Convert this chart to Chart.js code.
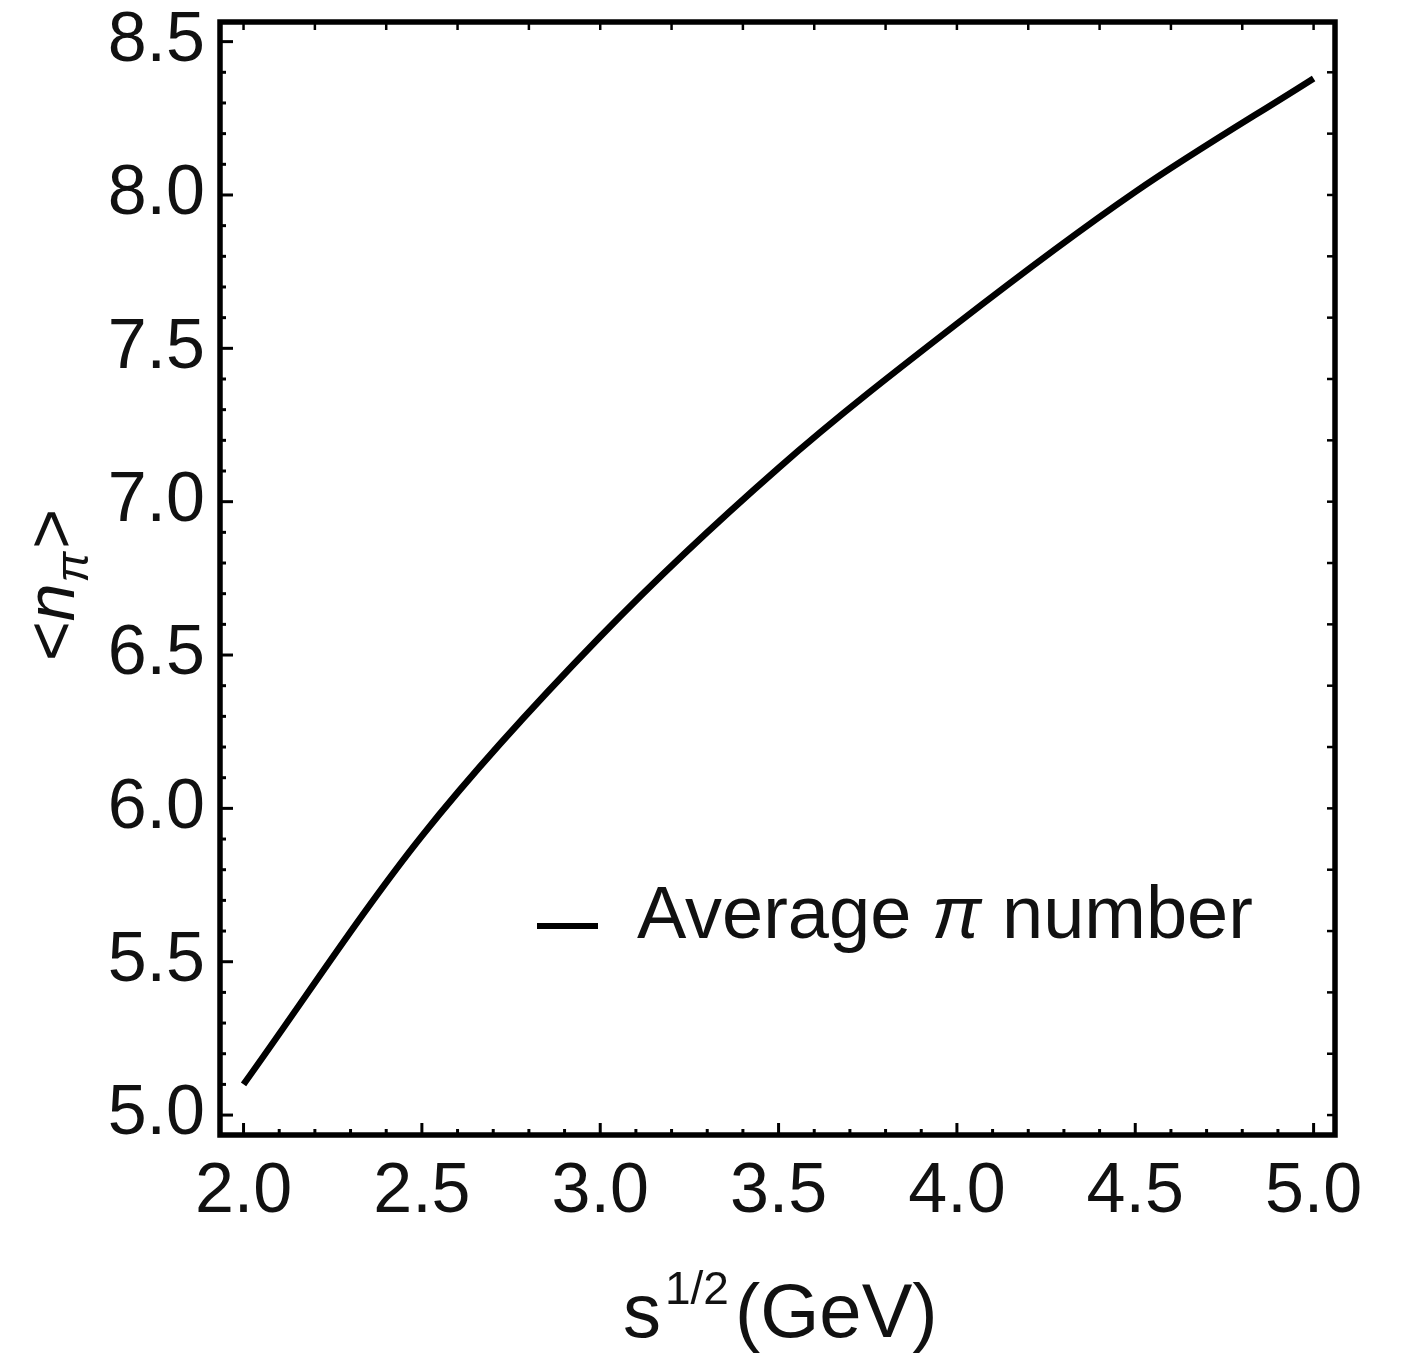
<!DOCTYPE html>
<html>
<head>
<meta charset="utf-8">
<script src="https://cdn.jsdelivr.net/npm/chart.js@4.4.0/dist/chart.umd.min.js"></script>
<style>
  body { margin: 0; background: #fff; }
  #wrap { position: relative; width: 1410px; height: 1369px; }
</style>
</head>
<body>
<div id="wrap"><canvas id="pionChart" width="1410" height="1369"></canvas></div>
<script>
// sqrt(s) in GeV
const energies = [2.0, 2.5, 3.0, 3.5, 4.0, 4.5, 5.0];
// average pion number
const avgPion = [5.10, 5.91, 6.56, 7.11, 7.58, 8.01, 8.38];
const seriesLabel = "Average π number";

const FONT = "'Liberation Sans', Arial, Helvetica, sans-serif";
const isMajor = v => Math.abs(v * 2 - Math.round(v * 2)) < 1e-6;

// draw a list of text runs [text, size, italic, dy, gapAfter]
function drawRuns(ctx, runs, x, y) {
    runs.forEach(r => {
        ctx.font = (r[2] ? "italic " : "") + r[1] + "px " + FONT;
        ctx.fillText(r[0], x, y + (r[3] || 0));
        x += ctx.measureText(r[0]).width + (r[4] || 0);
    });
}
function runsWidth(ctx, runs) {
    let w = 0;
    runs.forEach(r => {
        ctx.font = (r[2] ? "italic " : "") + r[1] + "px " + FONT;
        w += ctx.measureText(r[0]).width + (r[4] || 0);
    });
    return w;
}

const frame = {
    id: "frame",
    afterDraw(chart) {
        const { ctx, chartArea: a, scales } = chart;
        ctx.save();
        ctx.strokeStyle = "#000";
        ctx.lineCap = "butt";
        const seg = (x1, y1, x2, y2) => {
            ctx.beginPath(); ctx.moveTo(x1, y1); ctx.lineTo(x2, y2); ctx.stroke();
        };
        ctx.lineWidth = 3;
        scales.x.ticks.forEach(t => {
            const px = scales.x.getPixelForValue(t.value);
            seg(px, a.bottom, px, a.bottom - (isMajor(t.value) ? 12 : 6));
        });
        scales.y.ticks.forEach(t => {
            const py = scales.y.getPixelForValue(t.value);
            seg(a.left, py, a.left + (isMajor(t.value) ? 13 : 6), py);
        });
        ctx.lineWidth = 2.5;
        scales.x2.ticks.forEach(t => {
            const px = scales.x2.getPixelForValue(t.value);
            seg(px, a.top, px, a.top + 8);
        });
        scales.y2.ticks.forEach(t => {
            const py = scales.y2.getPixelForValue(t.value);
            seg(a.right, py, a.right - 8, py);
        });
        ctx.lineWidth = 5.5;
        ctx.strokeRect(a.left, a.top, a.width, a.height);

        // legend
        ctx.fillStyle = "#111";
        ctx.lineWidth = 6;
        seg(537, 926, 598, 926);
        ctx.textBaseline = "alphabetic";
        const parts = seriesLabel.split("π");
        drawRuns(ctx, [[parts[0], 74, false], ["π", 74, true], [parts[1], 74, false]], 637, 938);

        // x title
        drawRuns(ctx, [["s", 76, false, 0, 4], ["1/2", 46, false, -33, 6], ["(GeV)", 76, false]], 623, 1337);

        // y title
        const yRuns = [["<", 68, false], ["n", 68, true, 0, 1], ["π", 46, true, 14, 3], [">", 68, false]];
        ctx.translate(74, 585);
        ctx.rotate(-Math.PI / 2);
        drawRuns(ctx, yRuns, -runsWidth(ctx, yRuns) / 2, 0);
        ctx.restore();
    }
};

const ctx = document.getElementById("pionChart").getContext("2d");

new Chart(ctx, {
    type: "line",
    data: {
        datasets: [{
            label: seriesLabel,
            data: energies.map((e, i) => ({ x: e, y: avgPion[i] })),
            borderColor: "#000",
            borderWidth: 6.5,
            pointRadius: 0,
            cubicInterpolationMode: "monotone",
            fill: false
        }]
    },
    options: {
        responsive: false,
        animation: false,
        layout: { padding: { left: 0, top: 22, right: 75, bottom: 0 } },
        plugins: {
            legend: { display: false },
            tooltip: { enabled: false }
        },
        scales: {
            x: {
                type: "linear",
                position: "bottom",
                min: 1.934,
                max: 5.06,
                grid: { display: false, drawTicks: false },
                border: { display: false },
                ticks: {
                    stepSize: 0.1,
                    includeBounds: false,
                    autoSkip: false,
                    maxRotation: 0,
                    padding: 16,
                    color: "#111",
                    font: { family: FONT, size: 70 },
                    callback: v => isMajor(v) ? v.toFixed(1) : ""
                },
                afterFit: s => { s.height = 234; s.paddingLeft = 0; s.paddingRight = 0; }
            },
            x2: {
                type: "linear",
                position: "top",
                min: 1.934,
                max: 5.06,
                grid: { display: false, drawTicks: false },
                border: { display: false },
                ticks: { display: false, stepSize: 0.2, includeBounds: false },
                afterFit: s => { s.height = 0; s.paddingLeft = 0; s.paddingRight = 0; }
            },
            y: {
                type: "linear",
                position: "left",
                min: 4.935,
                max: 8.564,
                grid: { display: false, drawTicks: false },
                border: { display: false },
                ticks: {
                    stepSize: 0.1,
                    includeBounds: false,
                    autoSkip: false,
                    padding: 15,
                    color: "#111",
                    font: { family: FONT, size: 70 },
                    callback: v => isMajor(v) ? v.toFixed(1) : ""
                },
                afterFit: s => { s.width = 220; s.paddingTop = 0; s.paddingBottom = 0; }
            },
            y2: {
                type: "linear",
                position: "right",
                min: 4.935,
                max: 8.564,
                grid: { display: false, drawTicks: false },
                border: { display: false },
                ticks: { display: false, stepSize: 0.2, includeBounds: false },
                afterFit: s => { s.width = 0; s.paddingTop = 0; s.paddingBottom = 0; }
            }
        }
    },
    plugins: [frame]
});
</script>
</body>
</html>
